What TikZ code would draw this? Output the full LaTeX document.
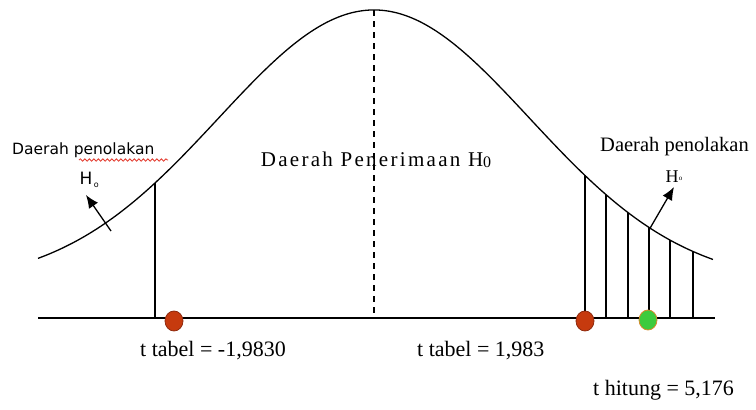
\documentclass[tikz,border=0pt]{standalone}
\usepackage{fontspec}
\setmainfont{Liberation Serif}
\newfontfamily\sanslabel{DejaVu Sans}
\newfontfamily\spacedserif[LetterSpace=11]{Liberation Serif}
\definecolor{DotRed}{HTML}{C63A0E}
\definecolor{DotRim}{HTML}{8E2A0E}
\definecolor{DotGreen}{HTML}{3DCB3D}
\definecolor{GreenRim}{HTML}{D68A2C}
\definecolor{WavyRed}{HTML}{E23B2E}
\usetikzlibrary{arrows.meta,calc,decorations.pathmorphing,positioning,shapes.geometric}

\begin{document}
\begin{tikzpicture}[x=1pt,y=-1pt,
  declare function={bell(\x)=285-275*exp(-((\x-374)/100)^2/4.8357);},
  curve/.style={line width=1.3pt,black},
  hatch/.style={line width=1.2pt,black},
  dot/.style={ellipse,minimum width=18pt,minimum height=20pt,inner sep=0pt,line width=0.8pt},
  pointer/.style={line width=1.3pt,-{Latex[length=13pt,width=11pt]}}]
  \useasboundingbox (0,0) rectangle (756,410);
  % bell curve and axis
  \draw[curve] plot[smooth,domain=38:713,samples=120] (\x,{bell(\x)});
  \coordinate (axL) at (38,318);
  \coordinate (axR) at (715,318);
  \draw[line width=1.3pt] (axL) -- (axR);
  \draw[line width=1.2pt,dash pattern=on 6pt off 5pt] (374,{bell(374)}) -- (374,318);
  % rejection region lines
  \draw[hatch] (155,318) -- (155,{bell(155)});
  \foreach \xx in {585,606,628,649,670,693}
    \draw[hatch] (\xx,318) -- (\xx,{bell(\xx)});
  % points on the axis
  \node[dot,draw=DotRim,fill=DotRed] (tLeft) at (174,321) {};
  \node[dot,draw=DotRim,fill=DotRed] (tRight) at (585,321) {};
  \node[dot,draw=GreenRim,fill=DotGreen] (tHit) at (648,320) {};
  % labels
  \node[anchor=west,inner sep=0pt] (lblL) at (12,150) {\sanslabel\fontsize{15.5}{16}\selectfont Daerah penolakan};
  \draw[WavyRed,line width=0.8pt,decorate,decoration={snake,amplitude=1.2pt,segment length=4.5pt}] (79,160) -- (168,160);
  \node[inner sep=0pt] (hL) at (86,178) {\sanslabel\fontsize{17}{17}\selectfont H};
  \node[inner sep=0pt,anchor=west] (hLsub) at ($(hL.south east)+(1,1)$) {\sanslabel\fontsize{8}{8}\selectfont o};
  \coordinate (arrLfoot) at (111,231);
  \coordinate (arrLtip) at (86,195);
  \draw[pointer] (arrLfoot) -- (arrLtip);
  \node[anchor=west,inner sep=0pt] (lblR) at (600,147) {\fontsize{20.5}{21}\selectfont Daerah penolakan};
  \node[inner sep=0pt] (hR) at (672,177) {\fontsize{18}{18}\selectfont H};
  \node[inner sep=0pt,anchor=west] (hRsub) at ($(hR.south east)+(0,-4)$) {\fontsize{7}{7}\selectfont o};
  \coordinate (arrRfoot) at (649,230);
  \coordinate (arrRtip) at (674,187);
  \draw[pointer] (arrRfoot) -- (arrRtip);
  \node[inner sep=0pt] (accept) at (376,160) {\spacedserif\fontsize{21}{21}\selectfont Daerah Penerimaan H\raisebox{-1.5pt}{\fontsize{16}{16}\selectfont 0}};
  \node[anchor=west,inner sep=0pt] (ttL) at (140,351) {\fontsize{22}{22}\selectfont t tabel = -1,9830};
  \node[anchor=west,inner sep=0pt] (ttR) at (417,351) {\fontsize{22}{22}\selectfont t tabel = 1,983};
  \node[anchor=west,inner sep=0pt] (thit) at (593,390) {\fontsize{22}{22}\selectfont t hitung = 5,176};
\end{tikzpicture}
\end{document}
